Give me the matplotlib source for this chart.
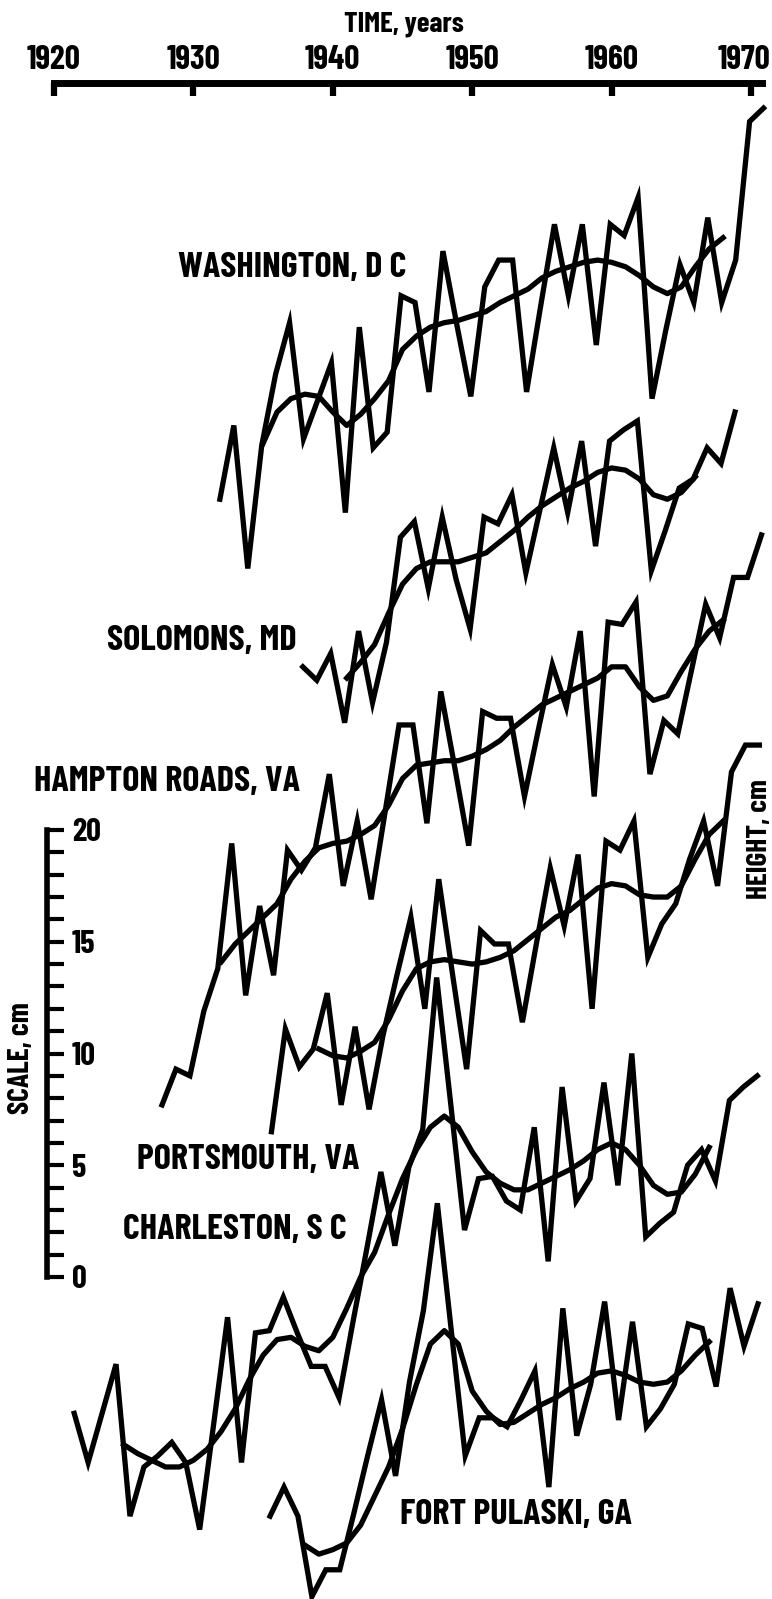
import numpy as np
import matplotlib
matplotlib.use('Agg')
from matplotlib import pyplot as plt
from matplotlib.font_manager import fontManager, FontProperties
from matplotlib.textpath import TextPath
from matplotlib.transforms import ScaledTranslation


def weight_num(w):
    if isinstance(w, (int, float)):
        return w
    table = {'light': 300, 'normal': 400, 'regular': 400, 'book': 400, 'medium': 500,
             'semibold': 600, 'demibold': 600, 'demi': 600, 'bold': 700, 'heavy': 800,
             'extra bold': 800, 'black': 900}
    return table.get(str(w).lower(), 400)


def narrowness(fp):
    w = TextPath((0, 0), 'WASHINGTON, D C', size=100, prop=fp).get_extents().width
    h = TextPath((0, 0), 'H', size=100, prop=fp).get_extents().height
    return w / h


# the original lettering is a narrow bold face; take the installed one closest to it
best = None
for f in fontManager.ttflist:
    desc = (f.name + ' ' + str(f.stretch) + ' ' + f.fname).lower()
    if any(k in desc for k in ('condensed', 'narrow', 'compressed')) \
            and weight_num(f.weight) >= 600 and f.style == 'normal':
        try:
            fp = FontProperties(fname=f.fname)
            score = abs(narrowness(fp) - 9.0)
        except Exception:
            continue
        if best is None or score < best[0]:
            best = (score, fp)
prop = best[1] if best else FontProperties(family='Liberation Sans', weight='bold')

# annual mean sea level, cm above each station's own baseline
dc_annual = [4.8, 8.1, 1.7, 7.2, 10.4, 12.7, 7.5, 9.2, 10.9, 4.2, 12.5, 7.1, 7.8, 13.9, 13.6, 9.6,
             15.9, 12.6, 9.4, 14.3, 15.5, 15.5, 9.6, 13.4, 17.1, 13.9, 17.1, 11.7, 17.1, 16.6, 18.3,
             9.3, 12.4, 15.3, 13.6, 17.4, 13.6, 15.5, 21.7, 22.3]
sol_annual = [7.3, 6.7, 7.9, 4.8, 8.9, 5.7, 8.4, 13.1, 13.8, 10.8, 14.0, 11.2, 9.0, 14.0, 13.7, 15.0,
              11.5, 14.3, 17.1, 14.2, 17.4, 12.7, 17.4, 17.9, 18.3, 11.6, 13.4, 15.3, 15.7, 17.1, 16.4, 18.7]
hr_annual = [2.7, 4.3, 4.0, 6.9, 8.8, 14.4, 7.6, 11.6, 8.5, 14.1, 13.2, 14.2, 17.5, 12.5, 15.4, 11.9,
             15.8, 19.7, 19.7, 15.3, 21.2, 17.8, 14.3, 20.3, 20.0, 20.0, 16.5, 19.5, 22.4, 20.5, 23.9,
             16.5, 24.3, 24.2, 25.2, 17.5, 19.9, 19.3, 22.2, 25.1, 23.6, 26.3, 26.3, 28.2]
pv_annual = [6.5, 11.1, 9.4, 10.2, 12.7, 7.7, 11.2, 7.5, 10.8, 13.5, 16.1, 12.0, 17.8, 13.5, 9.3, 15.5,
             14.9, 14.9, 11.4, 14.9, 18.3, 15.7, 18.9, 12.0, 19.5, 19.1, 20.4, 14.3, 15.8, 16.7, 18.7,
             20.4, 17.5, 22.6, 23.8, 23.8]
ch_annual = [5.9, 3.7, 5.9, 8.1, 1.3, 3.5, 4.0, 4.6, 3.7, 0.7, 5.4, 10.2, 3.7, 9.5, 9.6, 11.1, 9.5,
             8.0, 8.0, 6.6, 10.0, 13.3, 16.7, 13.4, 16.9, 18.6, 25.4, 19.8, 14.1, 16.4, 16.5, 15.4,
             15.0, 18.7, 12.7, 20.5, 15.4, 16.4, 20.7, 16.1, 22.0, 13.8, 14.4, 14.9, 17.0, 17.7, 16.3,
             19.9, 20.5, 21.0]
fp_annual = [5.3, 6.6, 5.3, 1.7, 2.9, 2.9, 5.4, 8.0, 10.5, 7.1, 11.3, 14.5, 19.3, 13.6, 8.0, 9.7, 9.7,
             9.3, 10.5, 11.8, 6.6, 14.6, 8.9, 11.2, 14.9, 9.6, 14.0, 9.3, 10.1, 11.2, 13.9, 13.7, 11.1,
             15.5, 12.9, 14.8]

# smoothed curves, one value per year
dc_smooth = [7.3, 8.7, 9.3, 9.5, 9.4, 8.7, 8.1, 8.6, 9.3, 10.1, 11.5, 12.1, 12.5, 12.7, 12.8, 13.0,
             13.2, 13.6, 13.9, 14.2, 14.7, 15.0, 15.2, 15.4, 15.5, 15.4, 15.2, 14.8, 14.3, 14.0, 14.3,
             15.2, 16.0, 16.5]
sol_smooth = [6.8, 7.5, 8.3, 9.7, 11.0, 11.7, 12.0, 12.0, 12.0, 12.2, 12.4, 12.9, 13.4, 14.0, 14.5,
              14.9, 15.3, 15.6, 16.0, 16.2, 16.1, 15.7, 15.0, 14.8, 15.1, 15.8]
hr_smooth = [9.1, 9.9, 10.5, 11.1, 11.7, 12.8, 13.6, 14.2, 14.4, 14.5, 14.8, 15.2, 16.1, 17.3, 17.9,
             18.0, 18.1, 18.1, 18.3, 18.6, 19.0, 19.6, 20.1, 20.6, 20.9, 21.2, 21.5, 21.8, 22.3, 22.3,
             21.4, 20.8, 21.0, 22.1, 23.1, 23.9, 24.4]
pv_smooth = [10.2, 9.9, 9.8, 10.1, 10.5, 11.5, 12.8, 13.8, 14.1, 14.2, 14.1, 14.0, 14.1, 14.3, 14.6,
             15.1, 15.6, 16.1, 16.4, 16.9, 17.4, 17.6, 17.5, 17.1, 17.0, 17.0, 17.5, 18.7, 19.8, 20.4]
ch_smooth = [4.5, 4.1, 3.8, 3.5, 3.5, 3.8, 4.3, 5.1, 6.1, 7.4, 8.5, 9.2, 9.3, 8.9, 8.7, 9.3, 10.6,
             12.0, 13.1, 14.8, 16.4, 17.7, 18.7, 19.2, 18.7, 17.6, 16.7, 16.2, 15.9, 15.9, 16.2, 16.5,
             16.8, 17.2, 17.7, 18.0, 17.7, 17.0, 16.1, 15.7, 15.8, 16.6, 17.8]
fp_smooth = [4.0, 3.6, 3.8, 4.1, 4.9, 6.2, 7.5, 9.2, 11.2, 13.0, 13.6, 13.0, 10.9, 10.0, 9.4, 9.5, 9.9,
             10.3, 10.6, 11.0, 11.3, 11.7, 11.8, 11.6, 11.3, 11.2, 11.3, 11.8, 12.5, 13.1]

labels = ['WASHINGTON, D C', 'SOLOMONS, MD', 'HAMPTON ROADS, VA',
          'PORTSMOUTH, VA', 'CHARLESTON, S C', 'FORT PULASKI, GA']
year_ticks = [1920, 1930, 1940, 1950, 1960, 1970]
scale_ticks = [0, 5, 10, 15, 20]

# (first annual point, annual, first smooth year, smooth, vertical offset in cm)
stations = [
    (1931.9, dc_annual, 1935, dc_smooth, 30),
    (1937.85, sol_annual, 1941, sol_smooth, 20),
    (1927.75, hr_annual, 1932, hr_smooth, 5),
    (1935.6, pv_annual, 1939, pv_smooth, 0),
    (1921.45, ch_annual, 1925, ch_smooth, -12),
    (1935.5, fp_annual, 1938, fp_smooth, -16),
]
# where each name sits (pixels from left / top) and how wide it is in the original
label_pos = [(178, 268), (107, 641), (34, 782), (137, 1160), (123, 1230), (400, 1515)]
label_width = [225, 196, 275, 225, 221, 239]

W, H = 772, 1599


def px_year(px):
    return 1920 + (px - 54) / 13.94


def px_cm(py):
    return (1277 - py) / 22.35


fig = plt.figure(figsize=(W / 100, H / 100), dpi=100)

ax = fig.add_axes([0, 0, 1, 1])
ax.set_xlim(px_year(0), px_year(W))
ax.set_ylim(px_cm(H), px_cm(0))
ax.axis('off')

for start, annual, s_start, smooth, offset in stations:
    x = start + np.arange(len(annual))
    ax.plot(x, np.array(annual) + offset, color='black', lw=3.8, solid_joinstyle='miter')
    xs = s_start + np.arange(len(smooth))
    ax.plot(xs, np.array(smooth) + offset, color='black', lw=3.8, solid_joinstyle='round')

name_texts = []
for name, (lx, ly) in zip(labels, label_pos):
    name_texts.append(fig.text(lx / W, 1 - ly / H, name, fontproperties=prop,
                               fontsize=20, ha='left', va='center'))

# time axis across the top
tax = fig.add_axes([0, 1 - 83 / H, 1, 0.0001])
tax.set_xlim(ax.get_xlim())
tax.patch.set_visible(False)
for s in ['left', 'right', 'bottom']:
    tax.spines[s].set_visible(False)
tax.spines['top'].set_linewidth(5)
tax.spines['top'].set_bounds(1920, 1970.8)
tax.xaxis.tick_top()
tax.set_xticks(year_ticks)
tax.set_yticks([])
tax.tick_params(axis='x', direction='in', length=9, width=4.5, pad=6)
time_txt = fig.text(404 / W, 1 - 24 / H, 'TIME, years', fontproperties=prop, fontsize=18,
                    ha='center', va='center')

# vertical scale bar
sax = fig.add_axes([47 / W, 1 - 1277 / H, 0.0001, (1277 - 830) / H])
sax.set_ylim(0, 20)
sax.patch.set_visible(False)
for s in ['left', 'top', 'bottom']:
    sax.spines[s].set_visible(False)
sax.spines['right'].set_linewidth(4)
sax.yaxis.tick_right()
sax.set_yticks(scale_ticks)
sax.set_yticks(range(21), minor=True)
sax.set_xticks([])
sax.tick_params(axis='y', which='both', direction='out', length=12, width=3)
sax.tick_params(axis='y', which='major', pad=6)

scale_txt = fig.text(22 / W, 1 - 1058 / H, 'SCALE, cm', rotation=90, fontproperties=prop,
                     fontsize=18, ha='center', va='center')
height_txt = fig.text(760 / W, 1 - 839 / H, 'HEIGHT, cm', rotation=90, fontproperties=prop,
                      fontsize=18, ha='center', va='center')

# size the lettering so it is about as wide as in the original
fig.canvas.draw()
r = fig.canvas.get_renderer()
ratios = [w / t.get_window_extent(r).width for t, w in zip(name_texts, label_width)]
name_size = min(20 * np.mean(ratios) * 1.03, 26)
for t in name_texts:
    t.set_fontsize(name_size)
time_txt.set_fontsize(min(18 * 120 / time_txt.get_window_extent(r).width, 24))
scale_txt.set_fontsize(min(18 * 112 / scale_txt.get_window_extent(r).height, 24))
height_txt.set_fontsize(min(18 * 120 / height_txt.get_window_extent(r).height, 24))

probe = fig.text(0, 0, '1920', fontproperties=prop, fontsize=20)
tick_size = min(20 * 54 / probe.get_window_extent(r).width, 28)
probe.set_text('10')
scale_size = min(20 * 24 / probe.get_window_extent(r).width, 24)
probe.remove()

for lbl in tax.get_xticklabels():
    lbl.set_fontproperties(prop)
    lbl.set_fontsize(tick_size)
for lbl in sax.get_yticklabels():
    lbl.set_fontproperties(prop)
    lbl.set_fontsize(scale_size)

# the last year label sits a little left of its tick, as in the original
fig.canvas.draw()
last = tax.get_xticklabels()[-1]
last.set_transform(last.get_transform() + ScaledTranslation(-7 / 100, 0, fig.dpi_scale_trans))

fig.savefig('out.png', dpi=100)
